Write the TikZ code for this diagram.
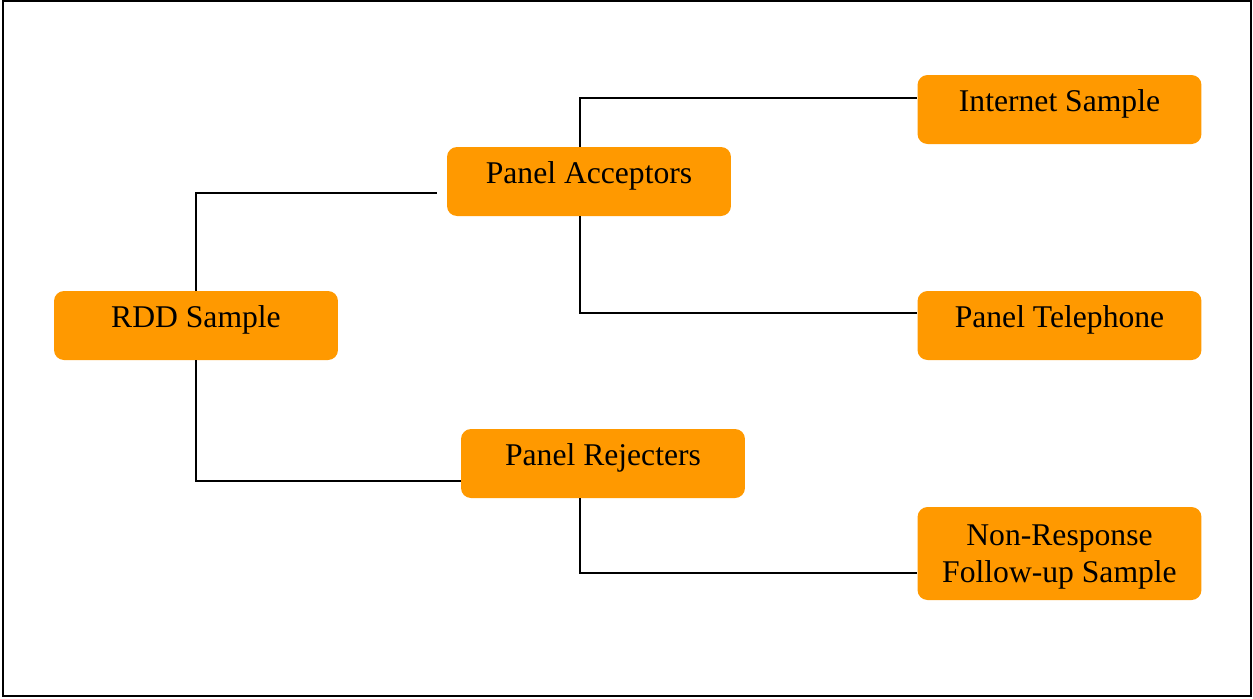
\documentclass[tikz,border=0pt]{standalone}
\usepackage{fontspec}
\setmainfont{Liberation Serif}
\definecolor{boxorange}{RGB}{255,153,0}
\begin{document}
\begin{tikzpicture}[x=0.02cm,y=-0.02cm,
        box/.style={rectangle,rounded corners=0.2cm,fill=boxorange,
          inner sep=0pt,minimum width=5.68cm,text height=0.72cm,text depth=0.66cm,
          font=\fontsize{18}{21}\selectfont},
        tallbox/.style={rectangle,rounded corners=0.2cm,fill=boxorange,
          inner sep=0pt,minimum width=5.68cm,minimum height=1.86cm,align=center,
          text depth=0pt,font=\fontsize{18}{21.3}\selectfont},
        link/.style={line width=0.7pt}]
      \useasboundingbox (0,0) rectangle (1253,698);
      \draw[line width=0.8pt] (3,1) rectangle (1251,696);
      \node (rdd) at ( 196,325.5) [box] {RDD Sample};
      \node (pa)  at ( 589,181.5) [box] {Panel Acceptors};
      \node (pr)  at ( 603,463.5) [box] {Panel Rejecters};
      \node (net) at (1059.5,109.5) [box] {Internet Sample};
      \node (tel) at (1059.5,325.5) [box] {Panel Telephone};
      \node (nr)  at (1059.5,553.5) [tallbox] {Non-Response\\Follow-up Sample};
      \draw[link] (rdd.north) |- ([shift={(-10,11.5)}]pa.west);
      \draw[link] (rdd.south) |- ([shift={(0,17.5)}]pr.west);
      \draw[link] ([shift={(-9,0)}]pa.north) |- ([shift={(0,-11.5)}]net.west);
      \draw[link] ([shift={(-9,0)}]pa.south) |- ([shift={(0,-12.5)}]tel.west);
      \draw[link] ([shift={(-23,0)}]pr.south) |- ([shift={(0,19.5)}]nr.west);
\end{tikzpicture}
\end{document}
